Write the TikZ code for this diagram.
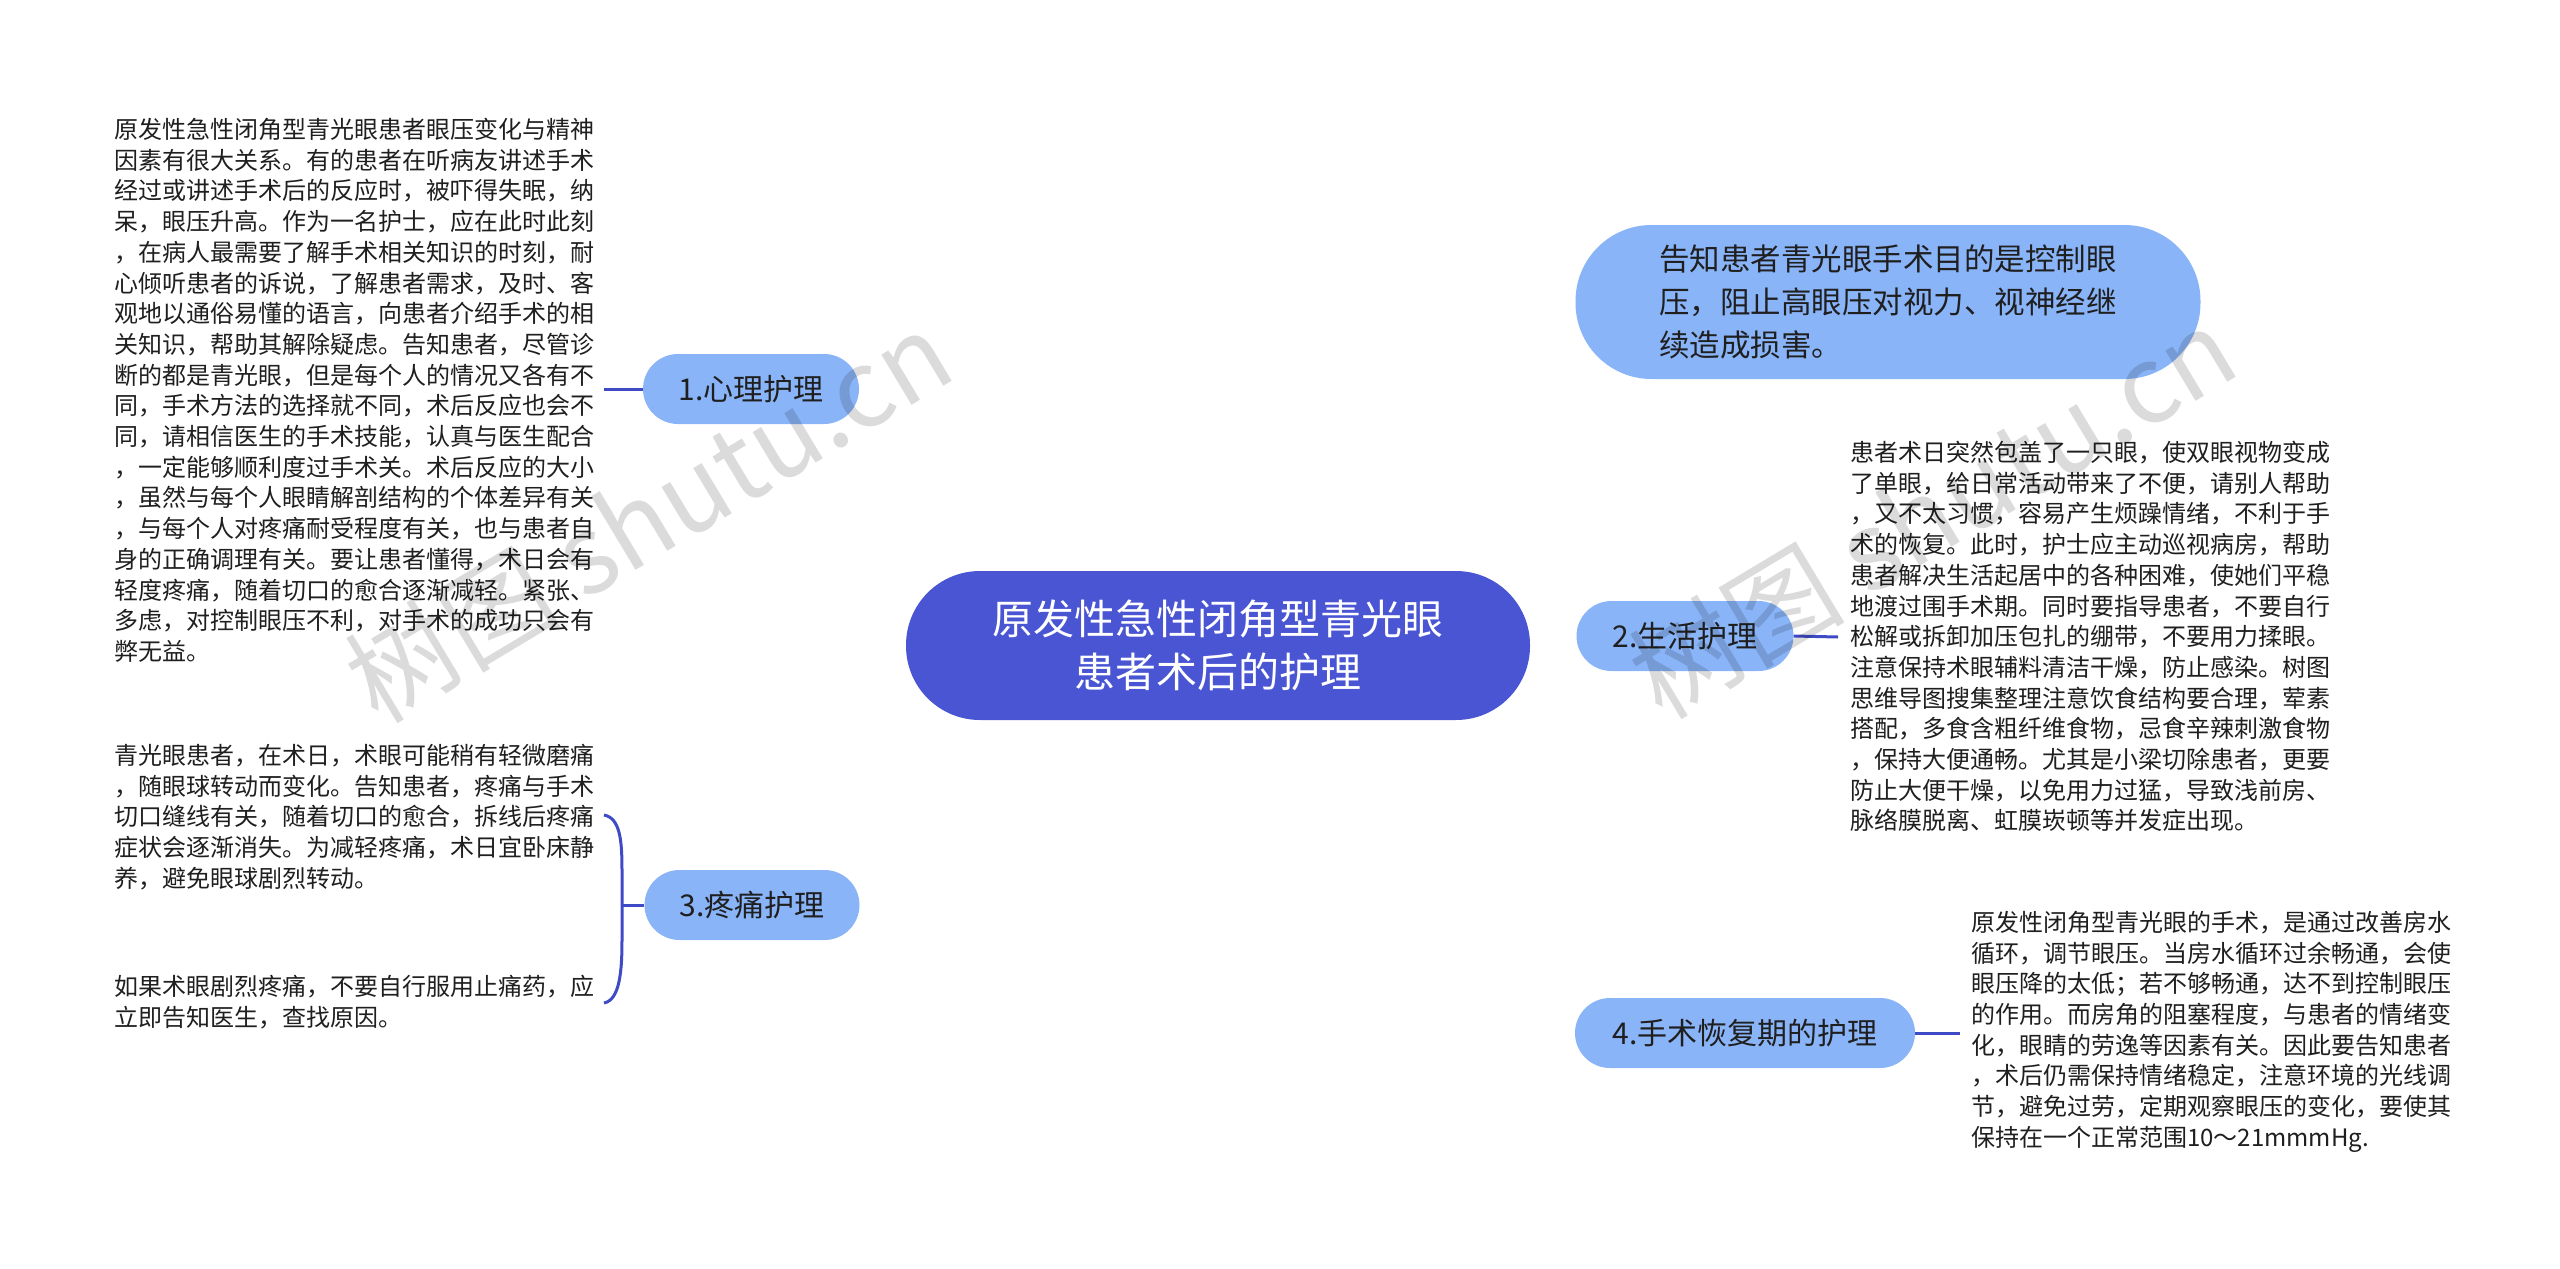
\documentclass[tikz,border=0pt]{standalone}
\usepackage{fontspec}
\setmainfont{Noto Sans CJK SC}
\usetikzlibrary{backgrounds}
\definecolor{rootfill}{HTML}{4A55D4}
\definecolor{subfill}{HTML}{8AB4F8}
\definecolor{linkcol}{HTML}{3F4AC6}
\definecolor{txt}{HTML}{1F1F1F}
\tikzset{
  root/.style={fill=rootfill, text=white, rounded corners=74pt, minimum width=624pt, minimum height=149pt, inner sep=0pt, align=center, font=\fontsize{41}{53}\selectfont},
  sub/.style={fill=subfill, text=txt, rounded corners=35pt, minimum height=70pt, inner sep=0pt, font=\fontsize{30}{36}\selectfont},
  note/.style={anchor=north west, inner sep=0pt, align=left, text=txt, font=\fontsize{24}{30.7}\selectfont},
  link/.style={draw=linkcol, line width=3.5pt},
  wm/.style={text=black, opacity=0.14, inner sep=0pt, font=\fontsize{108}{108}\selectfont}
}
\begin{document}
\begin{tikzpicture}[x=1pt,y=-1pt]
\useasboundingbox[fill=white] (0,0) rectangle (2560,1269);

\node[root] (c) at (1218,645.5) {原发性急性闭角型青光眼\\患者术后的护理};
\node[sub, minimum width=625pt, minimum height=154pt, rounded corners=76pt, align=left, font=\fontsize{30.5}{43}\selectfont] (n0) at (1888,302) {告知患者青光眼手术目的是控制眼\\压，阻止高眼压对视力、视神经继\\续造成损害。};
\node[sub, minimum width=216pt] (n1) at (751,389) {1.心理护理};
\node[sub, minimum width=217pt] (n2) at (1685,636) {2.生活护理};
\node[sub, minimum width=215pt] (n3) at (752,905) {3.疼痛护理};
\node[sub, minimum width=340pt] (n4) at (1745,1033) {4.手术恢复期的护理};

\node[note] (t1) at (114,118) {原发性急性闭角型青光眼患者眼压变化与精神\\
因素有很大关系。有的患者在听病友讲述手术\\
经过或讲述手术后的反应时，被吓得失眠，纳\\
呆，眼压升高。作为一名护士，应在此时此刻\\
，在病人最需要了解手术相关知识的时刻，耐\\
心倾听患者的诉说，了解患者需求，及时、客\\
观地以通俗易懂的语言，向患者介绍手术的相\\
关知识，帮助其解除疑虑。告知患者，尽管诊\\
断的都是青光眼，但是每个人的情况又各有不\\
同，手术方法的选择就不同，术后反应也会不\\
同，请相信医生的手术技能，认真与医生配合\\
，一定能够顺利度过手术关。术后反应的大小\\
，虽然与每个人眼睛解剖结构的个体差异有关\\
，与每个人对疼痛耐受程度有关，也与患者自\\
身的正确调理有关。要让患者懂得，术日会有\\
轻度疼痛，随着切口的愈合逐渐减轻。紧张、\\
多虑，对控制眼压不利，对手术的成功只会有\\
弊无益。};

\node[note] (t2) at (1850,441) {患者术日突然包盖了一只眼，使双眼视物变成\\
了单眼，给日常活动带来了不便，请别人帮助\\
，又不太习惯，容易产生烦躁情绪，不利于手\\
术的恢复。此时，护士应主动巡视病房，帮助\\
患者解决生活起居中的各种困难，使她们平稳\\
地渡过围手术期。同时要指导患者，不要自行\\
松解或拆卸加压包扎的绷带，不要用力揉眼。\\
注意保持术眼辅料清洁干燥，防止感染。树图\\
思维导图搜集整理注意饮食结构要合理，荤素\\
搭配，多食含粗纤维食物，忌食辛辣刺激食物\\
，保持大便通畅。尤其是小梁切除患者，更要\\
防止大便干燥，以免用力过猛，导致浅前房、\\
脉络膜脱离、虹膜崁顿等并发症出现。};

\node[note] (t3a) at (114,744) {青光眼患者，在术日，术眼可能稍有轻微磨痛\\
，随眼球转动而变化。告知患者，疼痛与手术\\
切口缝线有关，随着切口的愈合，拆线后疼痛\\
症状会逐渐消失。为减轻疼痛，术日宜卧床静\\
养，避免眼球剧烈转动。};

\node[note] (t3b) at (114,975) {如果术眼剧烈疼痛，不要自行服用止痛药，应\\
立即告知医生，查找原因。};

\node[note] (t4) at (1971,911) {原发性闭角型青光眼的手术，是通过改善房水\\
循环，调节眼压。当房水循环过余畅通，会使\\
眼压降的太低；若不够畅通，达不到控制眼压\\
的作用。而房角的阻塞程度，与患者的情绪变\\
化，眼睛的劳逸等因素有关。因此要告知患者\\
，术后仍需保持情绪稳定，注意环境的光线调\\
节，避免过劳，定期观察眼压的变化，要使其\\
保持在一个正常范围10～21mmmHg.};

\coordinate (k1) at (604,389);
\coordinate (k2) at (1838,637);
\coordinate (k3) at (622,905);
\coordinate (k4) at (1960,1033);
\coordinate (b3a) at (604,815);
\coordinate (b3b) at (604,1003);

\begin{scope}[on background layer]
\draw[link] ([xshift=6pt]c.north) .. controls (1240,360) and (1330,302) .. (n0.west);
\draw[link] ([xshift=-6pt]c.north) .. controls (1210,517) and (1060,389) .. (n1.east);
\draw[link] (c.east) -- (n2.west);
\draw[link] ([xshift=-6pt]c.south) .. controls (1210,774) and (1060,905) .. (n3.east);
\draw[link] ([xshift=6pt]c.south) .. controls (1240,940) and (1330,1033) .. (n4.west);
\end{scope}

\draw[link, line width=3pt] (n1.west) -- (k1);
\draw[link, line width=3pt] (n2.east) -- (k2);
\draw[link, line width=3pt] (n3.west) -- (k3);
\draw[link, line width=3pt] (n4.east) -- (k4);
\draw[link, line width=3pt] (b3a) .. controls (620,818) and (622,840) .. (622,870) -- (622,940) .. controls (622,970) and (620,1000) .. (b3b);

\node[wm, rotate=31] (w1) at (648,516) {树图 shutu.cn};
\node[wm, rotate=31] (w2) at (1932,512) {树图 shutu.cn};
\end{tikzpicture}
\end{document}
